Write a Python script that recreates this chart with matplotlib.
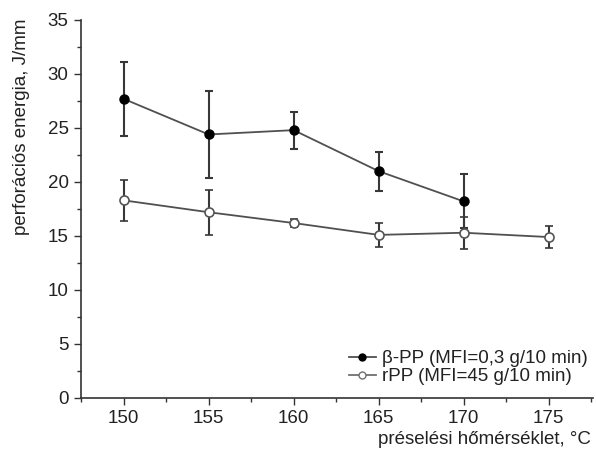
import matplotlib
matplotlib.use("Agg")
import matplotlib.pyplot as plt
from matplotlib.ticker import MultipleLocator
from matplotlib.lines import Line2D

plt.rcParams['font.family'] = ['Liberation Sans', 'DejaVu Sans']

temp_beta = [150, 155, 160, 165, 170]
beta_pp = [27.7, 24.4, 24.8, 21.0, 18.2]
beta_err = [3.4, 4.0, 1.7, 1.8, 2.5]

temp_r = [150, 155, 160, 165, 170, 175]
r_pp = [18.3, 17.2, 16.2, 15.1, 15.3, 14.9]
r_err = [1.9, 2.1, 0.4, 1.1, 1.5, 1.0]

labels = ["β-PP (MFI=0,3 g/10 min)", "rPP (MFI=45 g/10 min)"]

fs = 13.5
fig = plt.figure(figsize=(5.96, 4.5), dpi=100)
ax = fig.add_axes([0.136, 0.1156, 0.859, 0.84])

lc = '#505050'
ax.errorbar(temp_beta, beta_pp, yerr=beta_err, color=lc, lw=1.3, marker='o', ms=6.5,
            mfc='black', mec='black', ecolor='#383838', elinewidth=1.5, capsize=3,
            capthick=1.5)
ax.errorbar(temp_r, r_pp, yerr=r_err, color=lc, lw=1.3, marker='o', ms=6.5,
            mfc='white', mec='#555555', mew=1.2, ecolor='#383838', elinewidth=1.5, capsize=3,
            capthick=1.5)

ax.set_xlim(147.5, 177.6)
ax.set_ylim(0, 35)
ax.xaxis.set_major_locator(MultipleLocator(5))
ax.xaxis.set_minor_locator(MultipleLocator(2.5))
ax.yaxis.set_major_locator(MultipleLocator(5))
ax.yaxis.set_minor_locator(MultipleLocator(2.5))
for s in ['top', 'right']:
    ax.spines[s].set_visible(False)
for s in ['left', 'bottom']:
    ax.spines[s].set_color('#333333')
    ax.spines[s].set_linewidth(1.2)
ax.tick_params(which='major', direction='out', length=5, width=1, colors='#333333',
               labelsize=fs, labelcolor='#222222', pad=4)
ax.tick_params(which='minor', direction='out', length=3, width=1, colors='#333333')

ax.set_xlabel("préselési hőmérséklet, °C", fontsize=fs, color='#222222')
ax.xaxis.set_label_coords(0.995, -0.088, transform=ax.transAxes)
ax.xaxis.label.set_horizontalalignment('right')
ax.xaxis.label.set_verticalalignment('top')
ax.set_ylabel("perforációs energia, J/mm", fontsize=fs, color='#222222')
ax.yaxis.set_label_coords(-0.1, 1.005)
ax.yaxis.label.set_verticalalignment('bottom')
ax.yaxis.label.set_horizontalalignment('right')

handles = [
    Line2D([], [], color=lc, lw=1.3, marker='o', ms=5, mfc='black', mec='black'),
    Line2D([], [], color='#707070', lw=1.3, marker='o', ms=5, mfc='white', mec='#707070'),
]
leg = ax.legend(handles, labels, loc='lower right', bbox_to_anchor=(1.012, 0.004),
                frameon=False, fontsize=fs, handlelength=1.4, handletextpad=0.35,
                labelspacing=0.05, borderpad=0.1)
for t in leg.get_texts():
    t.set_color('#222222')

fig.savefig("out.png", dpi=100)
